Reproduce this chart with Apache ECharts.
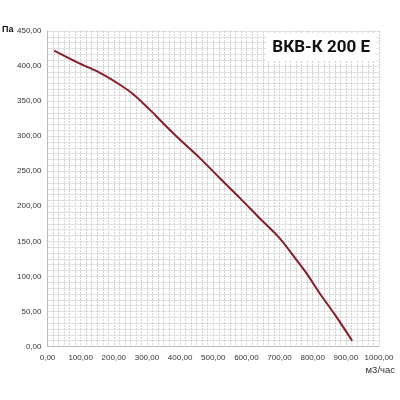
<!DOCTYPE html>
<html>
<head>
<meta charset="utf-8">
<script src="https://cdn.jsdelivr.net/npm/echarts@6/dist/echarts.min.js"></script>
<style>
  html, body { margin: 0; padding: 0; background: #fff; }
  #main { width: 400px; height: 400px; }
</style>
</head>
<body>
<div id="main"></div>
<script>
// curve: flow (m3/h) and pressure (Pa)
const flow = [20, 93, 153, 203, 254, 304, 354, 404, 459, 520, 580, 640, 700, 751, 781, 821, 871, 919];
const pressure = [422, 404.5, 391.7, 378, 361.7, 340, 316, 293, 269, 240, 212, 183, 154.6, 123.6, 104.6, 76, 42.6, 8.3];

const xTicks = [0, 1000, 100];   // min, max, step
const yTicks = [0, 450, 50];

const chartTitle = 'ВКВ-К 200 Е';
const yName = 'Па';
const xName = 'м3/час';

const points = flow.map((x, i) => [x, pressure[i]]);

const fmt = v => v.toFixed(2).replace('.', ',');

const gridLine = { lineStyle: { color: '#d2d2d2', width: 1, type: [2, 1] } };

const myChart = echarts.init(document.getElementById('main'));
myChart.setOption({
    animation: false,
    backgroundColor: '#fff',
    textStyle: { fontFamily: 'Liberation Sans' },
    title: {
        text: chartTitle,
        right: 24,
        top: 34,
        padding: [5, 6, 5, 6],
        backgroundColor: '#fff',
        textStyle: {
            fontFamily: 'Liberation Sans Narrow, Roboto, sans-serif',
            fontWeight: 'bold',
            fontSize: 17,
            color: '#111'
        }
    },
    grid: { left: 47.5, right: 21, top: 31, bottom: 53.5, containLabel: false },
    graphic: [
        {
            type: 'text', left: 2, top: 25,
            style: { text: yName, font: 'bold 9px Liberation Sans', fill: '#111' }
        },
        {
            type: 'text', right: 5, top: 365,
            style: { text: xName, font: '9.5px Liberation Sans', fill: '#333' }
        }
    ],
    xAxis: {
        type: 'value',
        min: xTicks[0], max: xTicks[1], interval: xTicks[2],
        axisLine: { show: true, lineStyle: { color: '#bbb' } },
        axisTick: { show: false },
        axisLabel: { formatter: fmt, fontSize: 8, color: '#333', margin: 7 },
        splitLine: gridLine,
        minorTick: { show: true, splitNumber: 6, length: 0 },
        minorSplitLine: { show: true, lineStyle: gridLine.lineStyle }
    },
    yAxis: {
        type: 'value',
        min: yTicks[0], max: yTicks[1], interval: yTicks[2],
        axisLine: { show: true, lineStyle: { color: '#bbb' } },
        axisTick: { show: false },
        axisLabel: { formatter: fmt, fontSize: 8, color: '#333', margin: 6 },
        splitLine: gridLine,
        minorTick: { show: true, splitNumber: 6, length: 0 },
        minorSplitLine: { show: true, lineStyle: gridLine.lineStyle }
    },
    series: [{
        type: 'line',
        data: points,
        smooth: 0.3,
        symbol: 'none',
        lineStyle: { color: '#8b1e24', width: 2 }
    }]
});
</script>
</body>
</html>
